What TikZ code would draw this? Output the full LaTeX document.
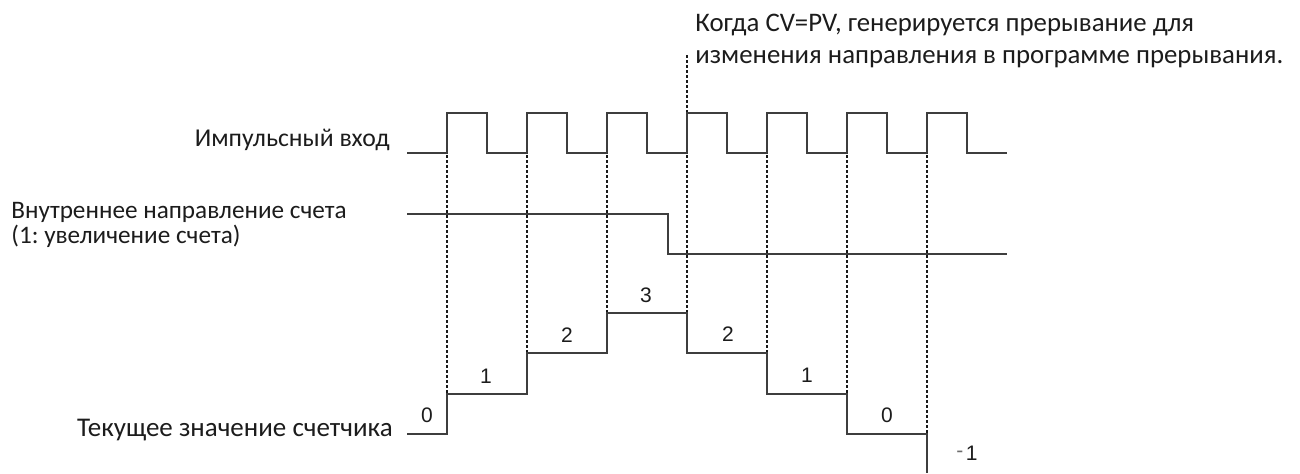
\documentclass[tikz,border=0pt]{standalone}
\usepackage{fontspec}
\setmainfont{Carlito}
\newfontfamily\arialf{Liberation Sans}
\frenchspacing
\definecolor{sig}{RGB}{62,62,62}
\definecolor{txt}{RGB}{28,28,28}
\definecolor{dotc}{RGB}{25,25,25}
\definecolor{mgray}{RGB}{110,110,110}
\tikzset{
  signal/.style={draw=sig, line width=1pt, line join=miter},
  guide/.style={draw=dotc, line width=1.1pt, dash pattern=on 1.5pt off 1pt},
  lbl/.style={inner sep=0pt, text=txt},
  num/.style={inner sep=0pt, text=txt, font=\arialf\fontsize{10.5}{12}\selectfont},
}
\begin{document}
\begin{tikzpicture}[x=0.5pt, y=-0.5pt]
\useasboundingbox (0,0) rectangle (1300,473);
% texts
\node[lbl, anchor=base west, font=\fontsize{13.4}{16}\selectfont] (note1) at (695,31.7) {Когда CV=PV, генерируется прерывание для};
\node[lbl, anchor=base west, font=\fontsize{13.4}{16}\selectfont] (note2) at (695,63.3) {изменения направления в программе прерывания.};
\node[lbl, anchor=base east, font=\fontsize{12.85}{15}\selectfont] (pin) at (390,146) {Импульсный вход};
\node[lbl, anchor=base west, font=\fontsize{12.6}{15}\selectfont] (dir1) at (11,218) {Внутреннее направление счета};
\node[lbl, anchor=base west, font=\fontsize{12.6}{15}\selectfont] (dir2) at (11,243) {(1: увеличение счета)};
\node[lbl, anchor=base east, font=\fontsize{13.5}{16}\selectfont] (cnt) at (393,436) {Текущее значение счетчика};
% dotted guides
\draw[guide] (447,155) -- (447,394);
\draw[guide] (527,155) -- (527,353);
\draw[guide] (607,155) -- (607,313);
\draw[guide] (687,55) -- (687,313);
\draw[guide] (767,155) -- (767,353);
\draw[guide] (847,155) -- (847,394);
\draw[guide] (927,155) -- (927,434);
% pulse input
\draw[signal] (407,153) -- (447,153) -- (447,113) -- (487,113) -- (487,153)
  -- (527,153) -- (527,113) -- (567,113) -- (567,153)
  -- (607,153) -- (607,113) -- (647,113) -- (647,153)
  -- (687,153) -- (687,113) -- (727,113) -- (727,153)
  -- (767,153) -- (767,113) -- (807,113) -- (807,153)
  -- (847,153) -- (847,113) -- (887,113) -- (887,153)
  -- (927,153) -- (927,113) -- (967,113) -- (967,153) -- (1007,153);
% direction
\draw[signal] (407,214) -- (668,214) -- (668,254) -- (1007,254);
% counter
\draw[signal] (407,434) -- (447,434) -- (447,394) -- (527,394) -- (527,353)
  -- (607,353) -- (607,313) -- (687,313) -- (687,353) -- (767,353)
  -- (767,394) -- (847,394) -- (847,434) -- (927,434) -- (927,473);
% counter values
\node[num] (v0a) at (427,415) {0};
\node[num] (v1a) at (486,376) {1};
\node[num] (v2a) at (567,335) {2};
\node[num] (v3) at (646,295) {3};
\node[num] (v2b) at (728,334) {2};
\node[num] (v1b) at (807,375) {1};
\node[num] (v0b) at (887,415) {0};
\node[num] (vm1) at (967,453) {\raisebox{1.6pt}{\textcolor{mgray}{-}}\kern1.2pt 1};
\end{tikzpicture}
\end{document}
